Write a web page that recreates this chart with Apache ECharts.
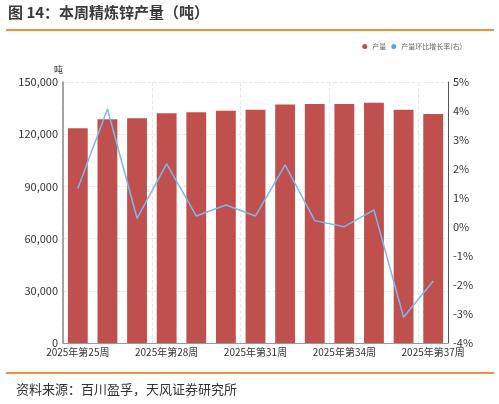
<!DOCTYPE html>
<html>
<head>
<meta charset="utf-8">
<script src="https://cdn.jsdelivr.net/npm/echarts@6/dist/echarts.min.js"></script>
<style>
  html, body { margin: 0; padding: 0; background: #fff; }
  #chart { width: 499px; height: 404px; }
</style>
</head>
<body>
<div id="chart"></div>
<script>
// 周度精炼锌产量（吨）及环比
const weeks = ['2025年第25周', '2025年第26周', '2025年第27周', '2025年第28周', '2025年第29周',
  '2025年第30周', '2025年第31周', '2025年第32周', '2025年第33周', '2025年第34周',
  '2025年第35周', '2025年第36周', '2025年第37周']
const output = [123400, 128600, 129100, 132000, 132600, 133500, 134100, 137000, 137400, 137400, 138100, 134100, 131600]
const growth = [1.33, 4.07, 0.30, 2.18, 0.38, 0.76, 0.38, 2.14, 0.22, 0.01, 0.59, -3.11, -1.86]

const font = '"Noto Sans CJK SC", "Noto Sans", sans-serif'
const chart = echarts.init(document.getElementById('chart'))

chart.setOption({
  animation: false,
  textStyle: { fontFamily: font },
  graphic: [
    { type: 'text', left: 8, top: 5, style: { text: '图 14：本周精炼锌产量（吨）', font: 'bold 15px ' + font, fill: '#3a3a3a' } },
    { type: 'rect', shape: { x: 6, y: 29, width: 488, height: 2 }, style: { fill: '#F0913A' } },
    { type: 'rect', shape: { x: 6, y: 372, width: 488, height: 2 }, style: { fill: '#F0913A' } },
    { type: 'text', left: 16, top: 383, style: { text: '资料来源：百川盈孚，天风证券研究所', font: '13px ' + font, fill: '#333' } }
  ],
  legend: {
    right: 32, top: 38, itemWidth: 5, itemHeight: 5, itemGap: 5, icon: 'circle',
    textStyle: { fontSize: 7, color: '#666' },
    data: [
      { name: '产量', itemStyle: { color: '#C0504D' } },
      { name: '产量环比增长率(右)', itemStyle: { color: '#5BA3E6' } }
    ]
  },
  grid: { left: 63, right: 51, top: 82, bottom: 61 },
  xAxis: {
    type: 'category', data: weeks,
    axisLine: { lineStyle: { color: '#999' } },
    axisTick: { show: false },
    axisLabel: { interval: 2, fontSize: 10, color: '#333', margin: 4 },
    splitLine: { show: true, interval: 2, lineStyle: { color: '#e8e8ee', type: 'dashed' } }
  },
  yAxis: [
    {
      type: 'value', min: 0, max: 150000, interval: 30000,
      name: '吨', nameLocation: 'end', nameGap: 8,
      nameTextStyle: { fontSize: 9, color: '#333', align: 'right', padding: [0, 0, 0, 0] },
      axisLine: { show: true, lineStyle: { color: '#888', width: 1.5 } },
      axisTick: { show: false },
      axisLabel: { fontSize: 11, color: '#333', margin: 5, formatter: v => v.toLocaleString('en-US') },
      splitLine: { lineStyle: { color: '#e8e8ee', type: 'dashed' } }
    },
    {
      type: 'value', min: -4, max: 5, interval: 1,
      axisLine: { show: true, lineStyle: { color: '#555', width: 1 } },
      axisTick: { show: false },
      axisLabel: { fontSize: 11, color: '#333', margin: 5, formatter: '{value}%' },
      splitLine: { show: false }
    }
  ],
  series: [
    {
      name: '产量', type: 'bar', data: output, barWidth: '67%',
      itemStyle: { color: '#C0504D' }
    },
    {
      name: '产量环比增长率(右)', type: 'line', yAxisIndex: 1, data: growth,
      symbol: 'none', lineStyle: { color: '#7DB7EC', width: 1.5 }
    }
  ]
})
</script>
</body>
</html>
